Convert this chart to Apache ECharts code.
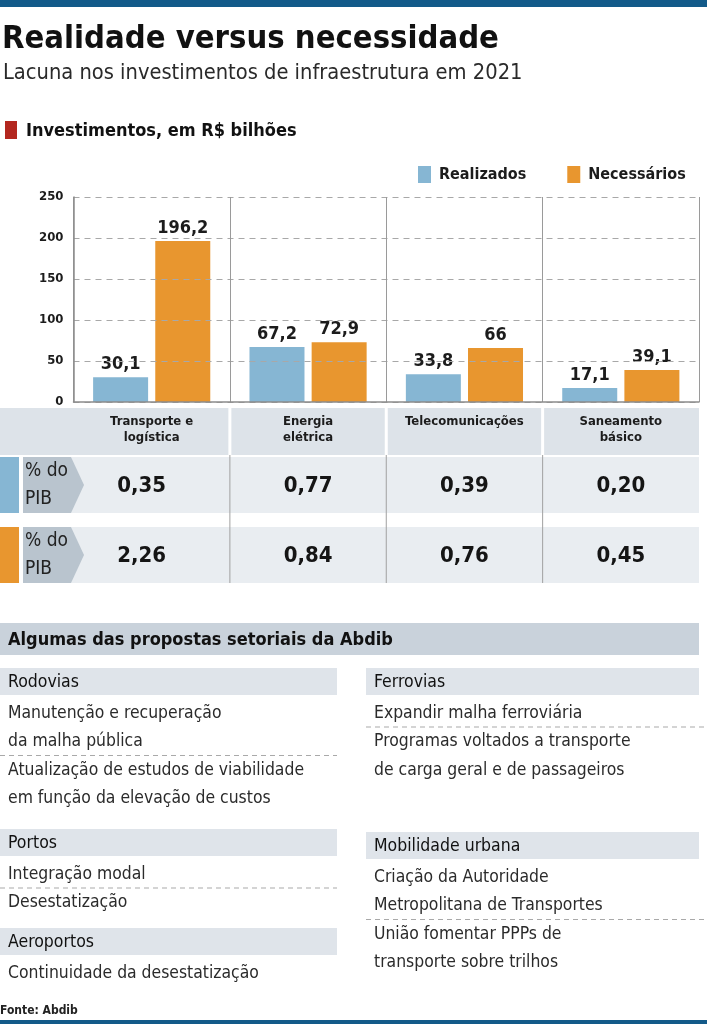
<!DOCTYPE html>
<html>
<head>
<meta charset="utf-8">
<script src="https://cdn.jsdelivr.net/npm/echarts@6/dist/echarts.min.js"></script>
<style>
  html, body { margin: 0; padding: 0; background: #fff; }
  #chart { width: 707px; height: 1024px; }
</style>
</head>
<body>
<div id="chart"></div>
<script>
// dados
const categories = ["Transporte e\nlogística", "Energia\nelétrica", "Telecomunicações", "Saneamento\nbásico"];
const realizados = [30.1, 67.2, 33.8, 17.1];
const necessarios = [196.2, 72.9, 66, 39.1];
const pibRealizados = [0.35, 0.77, 0.39, 0.20];
const pibNecessarios = [2.26, 0.84, 0.76, 0.45];
const yTicks = [0, 50, 100, 150, 200, 250];

const propostasEsq = [
  { titulo: "Rodovias", itens: [["Manutenção e recuperação", "da malha pública"], ["Atualização de estudos de viabilidade", "em função da elevação de custos"]] },
  { titulo: "Portos", itens: [["Integração modal"], ["Desestatização"]] },
  { titulo: "Aeroportos", itens: [["Continuidade da desestatização"]] },
];
const propostasDir = [
  { titulo: "Ferrovias", itens: [["Expandir malha ferroviária"], ["Programas voltados a transporte", "de carga geral e de passageiros"]] },
  { titulo: "Mobilidade urbana", itens: [["Criação da Autoridade", "Metropolitana de Transportes"], ["União fomentar PPPs de", "transporte sobre trilhos"]] },
];

// cores
const AZUL = "#86b6d3";
const LARANJA = "#e8962f";
const FONT = '"DejaVu Sans Condensed", "Liberation Sans Narrow", sans-serif';
const TXT = "#1c1c1c";

const fmt = (v, d) => v.toFixed(d).replace(".", ",");
const fmtLabel = (v) => String(v).replace(".", ",");

const chart = echarts.init(document.getElementById("chart"), null, { renderer: "canvas" });

const GRID = { left: 73.5, right: 8, top: 197, height: 205 };

chart.setOption({
  animation: false,
  backgroundColor: "#fff",
  textStyle: { fontFamily: FONT },
  legend: {
    left: 413, top: 161,
    itemWidth: 13, itemHeight: 17, itemGap: 41,
    icon: "rect",
    textStyle: { fontFamily: FONT, fontWeight: "bold", fontSize: 16, color: TXT, padding: [0, 0, 0, 3] },
    data: ["Realizados", "Necessários"],
  },
  grid: GRID,
  xAxis: {
    type: "category",
    data: categories,
    z: 5,
    axisLine: { lineStyle: { color: "#8c8c8c", width: 1.5 } },
    axisTick: { show: false },
    splitLine: { show: true, interval: 0, showMinLine: true, showMaxLine: true, lineStyle: { color: "#9a9a9a", width: 1 } },
    axisLabel: {
      interval: 0, margin: 12, fontFamily: FONT, fontWeight: "bold", fontSize: 13, lineHeight: 16,
      color: TXT, verticalAlign: "top",
    },
  },
  yAxis: {
    type: "value", min: 0, max: 250, interval: 50, z: 5,
    axisLine: { show: true, lineStyle: { color: "#8c8c8c", width: 1.5 } },
    axisTick: { show: false },
    splitLine: { lineStyle: { color: "#a8a8a8", type: [6, 5], width: 1 } },
    axisLabel: {
      margin: 10, fontFamily: FONT, fontWeight: "bold", fontSize: 13, color: TXT,
      formatter: (v) => (yTicks.includes(v) ? String(v) : ""),
    },
  },
  series: [
    {
      name: "Realizados", type: "bar", data: realizados, barWidth: 55, barGap: "13%",
      itemStyle: { color: AZUL },
      label: { show: true, position: "top", distance: 4, fontFamily: FONT, fontWeight: "bold", fontSize: 18, color: TXT, formatter: (p) => fmtLabel(p.value) },
    },
    {
      name: "Necessários", type: "bar", data: necessarios, barWidth: 55,
      itemStyle: { color: LARANJA },
      label: { show: true, position: "top", distance: 4, fontFamily: FONT, fontWeight: "bold", fontSize: 18, color: TXT, formatter: (p) => fmtLabel(p.value) },
    },
  ],
});

// elementos gráficos (cabeçalho, tabela do PIB, propostas)
const W = 707;
const RIGHT = 699;
const els = [];
const rect = (x, y, w, h, fill, z) => els.push({ type: "rect", shape: { x, y, width: w, height: h }, style: { fill }, z: z || 0, silent: true });
const line = (x1, y1, x2, y2, stroke, dash, width) => els.push({ type: "line", shape: { x1, y1, x2, y2 }, style: { stroke, lineWidth: width || 1, lineDash: dash || null }, z: 1, silent: true });
const text = (t, x, y, font, fill, align) => els.push({ type: "text", x, y, style: { text: t, font, fill: fill || TXT, textAlign: align || "left", textVerticalAlign: "middle" }, z: 3, silent: true });

// barras do topo e do rodapé
rect(0, 0, W, 7, "#135a89");
rect(0, 1020, W, 4, "#135a89");

// títulos
text("Realidade versus necessidade", 2, 40, `bold 32.5px ${FONT}`, "#111");
text("Lacuna nos investimentos de infraestrutura em 2021", 3, 73, `21.7px ${FONT}`, "#2a2a2a");
rect(5, 121, 12, 18, "#b3271f");
text("Investimentos, em R$ bilhões", 26, 131, `bold 18px ${FONT}`, "#111");

// faixa das categorias e linhas da tabela
const colCenter = categories.map((c) => chart.convertToPixel({ xAxisIndex: 0 }, c));
const colW = colCenter.length > 1 ? colCenter[1] - colCenter[0] : 156;
const bounds = colCenter.slice(1).map((c) => c - colW / 2);

rect(0, 408, RIGHT, 47, "#dde3e9");
bounds.forEach((x) => line(x, 408, x, 455, "#ffffff", null, 3));

const rows = [
  { y: 457, color: AZUL, vals: pibRealizados },
  { y: 527, color: LARANJA, vals: pibNecessarios },
];
rows.forEach((r) => {
  const h = 56;
  rect(23, r.y, RIGHT - 23, h, "#e9edf1");
  rect(0, r.y, 19, h, r.color);
  els.push({
    type: "polygon",
    shape: { points: [[23, r.y], [71, r.y], [84, r.y + h / 2], [71, r.y + h], [23, r.y + h]] },
    style: { fill: "#b9c4ce" }, z: 1, silent: true,
  });
  text("% do", 25, r.y + 14, `19px ${FONT}`, "#222");
  text("PIB", 25, r.y + 42, `19px ${FONT}`, "#222");
  r.vals.forEach((v, i) => {
    const cx = i === 0 ? colCenter[i] - 10 : colCenter[i];
    text(fmt(v, 2), cx, r.y + h / 2 + 1, `bold 22px ${FONT}`, "#151515", "center");
  });
});
bounds.forEach((x) => line(x, 455, x, 583, "#a0a0a0", null, 1));

// propostas
rect(0, 623, RIGHT, 32, "#c9d2db");
text("Algumas das propostas setoriais da Abdib", 8, 640, `bold 18px ${FONT}`, "#111");

const LINE_H = 28.5;
const drawColuna = (secoes, x0, x1, tops) => {
  secoes.forEach((s, si) => {
    const top = tops[si];
    rect(x0, top, x1 - x0, 27, "#dfe4ea");
    text(s.titulo, x0 + 8, top + 14, `17.5px ${FONT}`, "#111");
    let y = top + 45;
    s.itens.forEach((item, ii) => {
      if (ii > 0) {
        line(x0, y - 14.5, x1 === RIGHT ? W : x1, y - 14.5, "#a9a9a9", [5, 4], 1);
      }
      item.forEach((t) => {
        text(t, x0 + 8, y, `17.4px ${FONT}`, "#2b2b2b");
        y += LINE_H;
      });
    });
  });
};
drawColuna(propostasEsq, 0, 337, [668, 829, 928]);
drawColuna(propostasDir, 366, RIGHT, [668, 832]);

text("Fonte: Abdib", 0, 1011, `bold 12px ${FONT}`, "#222");

chart.setOption({ graphic: { elements: els } });
</script>
</body>
</html>
